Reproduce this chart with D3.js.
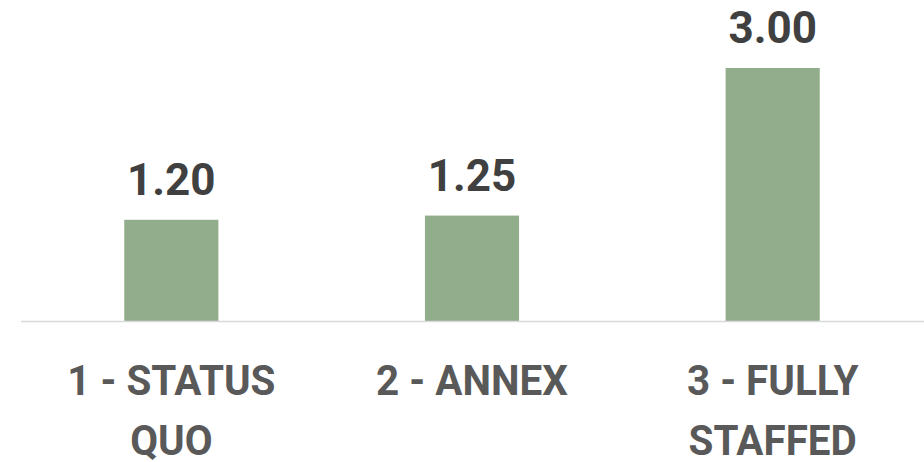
<!DOCTYPE html>
<html lang="en">
<head>
    <meta charset="UTF-8">
    <title>Staffing Options</title>
    <script src="https://d3js.org/d3.v7.min.js"></script>
    <style>
        body {
            margin: 0;
            padding: 0;
            background: #fff;
        }

        .value-label {
            font-family: Roboto, "Open Sans", sans-serif;
            font-weight: bold;
            font-size: 44px;
            fill: #404040;
        }

        .cat-label {
            font-family: Roboto, "Open Sans", sans-serif;
            font-weight: bold;
            font-size: 43px;
            fill: #595959;
        }
    </style>
</head>
<body>
    <div id="chart"></div>

    <script>
        // chart data
        const categories = ["1 - STATUS QUO", "2 - ANNEX", "3 - FULLY STAFFED"];
        const values = [1.20, 1.25, 3.00];
        // category labels split onto lines as in the original
        const labelLines = [["1 - STATUS", "QUO"], ["2 - ANNEX"], ["3 - FULLY", "STAFFED"]];

        const width = 924;
        const height = 462;
        const margin = { top: 68, right: 1, bottom: 141, left: 21 };

        const svg = d3.select("#chart")
            .append("svg")
            .attr("width", width)
            .attr("height", height);

        const x = d3.scaleBand()
            .domain(categories)
            .range([margin.left, width - margin.right])
            .paddingInner(0.687)
            .paddingOuter(0.3435);

        const y = d3.scaleLinear()
            .domain([0, 3])
            .range([height - margin.bottom, margin.top]);

        // bars
        svg.selectAll(".bar")
            .data(values)
            .enter().append("rect")
            .attr("class", "bar")
            .attr("x", (d, i) => x(categories[i]))
            .attr("y", d => y(d))
            .attr("width", x.bandwidth())
            .attr("height", d => y(0) - y(d))
            .attr("fill", "#91ad8c");

        // baseline
        svg.append("line")
            .attr("x1", margin.left)
            .attr("x2", width)
            .attr("y1", y(0) + 0.5)
            .attr("y2", y(0) + 0.5)
            .attr("stroke", "#d9d9d9")
            .attr("stroke-width", 1.5);

        // value labels
        svg.selectAll(".value-label")
            .data(values)
            .enter().append("text")
            .attr("class", "value-label")
            .attr("x", (d, i) => x(categories[i]) + x.bandwidth() / 2)
            .attr("y", d => y(d) - 25)
            .attr("text-anchor", "middle")
            .text(d => d3.format(".2f")(d));

        // category labels (slightly condensed)
        const catG = svg.selectAll(".cat")
            .data(categories)
            .enter().append("g")
            .attr("class", "cat")
            .attr("transform", d => `translate(${x(d) + x.bandwidth() / 2},0) scale(0.94,1)`);

        catG.each(function (d, i) {
            d3.select(this).selectAll("text")
                .data(labelLines[i])
                .enter().append("text")
                .attr("class", "cat-label")
                .attr("text-anchor", "middle")
                .attr("y", (t, j) => 395 + j * 60)
                .text(t => t);
        });
    </script>
</body>
</html>
